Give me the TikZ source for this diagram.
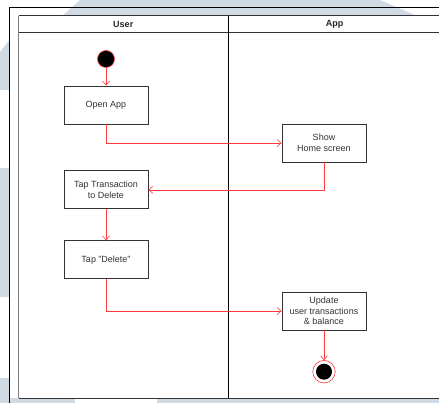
\documentclass[tikz,border=0pt]{standalone}
\usepackage{fontspec}
\setmainfont{Liberation Sans}
\usetikzlibrary{arrows.meta, positioning, backgrounds}
\definecolor{flowred}{HTML}{FF3B3B}
\definecolor{markblue}{HTML}{D0DAE4}

\begin{document}
\begin{tikzpicture}[
        x=1pt, y=-1pt,
        % action box
        action/.style={
            rectangle,
            draw=black!80,
            line width=0.9pt,
            fill=white,
            text=black!80,
            minimum width=84pt,
            minimum height=38pt,
            inner sep=1pt,
            align=center,
            font=\fontsize{9}{10.7}\selectfont
        },
        % red control flow
        flow/.style={
            -{Straight Barb[length=4pt, width=7pt]},
            draw=flowred,
            line width=0.6pt
        },
        lanehead/.style={inner sep=0pt, text=black!85, font=\fontsize{9}{11}\selectfont\bfseries},
        startdot/.style={circle, draw=flowred, fill=black, line width=0.6pt,
            minimum size=17pt, inner sep=0pt},
        enddot/.style={circle, draw=flowred, fill=white, line width=0.6pt,
            minimum size=22.5pt, inner sep=0pt}
    ]
    \useasboundingbox (0,0) rectangle (439,403);

    % ================= background marks =================
    \fill[markblue] (60,18) -- (80,0) -- (380,0) -- (422,18) -- cycle;
    \fill[markblue] (0,52) -- (9.5,40) -- (9.5,90) -- (0,90) -- cycle;
    \fill[markblue] (0,168) rectangle (9.5,297);
    \fill[markblue] (0,378) rectangle (9.5,403);
    \fill[markblue] (0,398) rectangle (75,403);
    \fill[markblue] (157,398) rectangle (439,403);

    % ================= frame and swimlanes =================
    \fill[white] (9.5,7.5) rectangle (18.5,398);
    \fill[white] (18.5,16) rectangle (441,398);
    \draw[black, line width=1.1pt] (9.5,405) -- (9.5,7.5) -- (441,7.5);
    \draw[black!50, line width=1pt] (18.5,16) -- (18.5,398);
    \draw[black!80, line width=1pt] (18.5,16) -- (441,16);
    \draw[black!80, line width=1pt] (18.5,33) -- (441,33);
    \draw[black!80, line width=1pt] (18.5,398) -- (441,398);
    \draw[black, line width=0.8pt] (228,16) -- (228,398);

    \node[lanehead] (user) at (123.25,24.5) {User};
    \node[lanehead] (app) at (334.5,24.5) {App};

    % ================= nodes =================
    \node[startdot] (start) at (106,59) {};
    \node[action] (open) at (106,105) {Open App};
    \node[action, below=46pt of open] (taptx) {Tap Transaction\\to Delete};
    \node[action, below=31pt of taptx] (tapdel) {Tap "Delete"};

    \node[action] (home) at (324,143) {Show\\Home screen};
    \node[action] (update) at (324,311) {Update\\user transactions\\\& balance};
    \node[enddot] (end) at (324,371.7) {};
    \fill[black] (end.center) circle (8pt);

    % ================= connectors =================
    \draw[flow] (start) -- (open);
    \draw[flow] (open.south) |- (home.west);
    \draw[flow] (home.south) |- (taptx.east);
    \draw[flow] (taptx) -- (tapdel);
    \draw[flow] (tapdel.south) |- (update.west);
    \draw[flow] (update) -- (end);

\end{tikzpicture}
\end{document}
